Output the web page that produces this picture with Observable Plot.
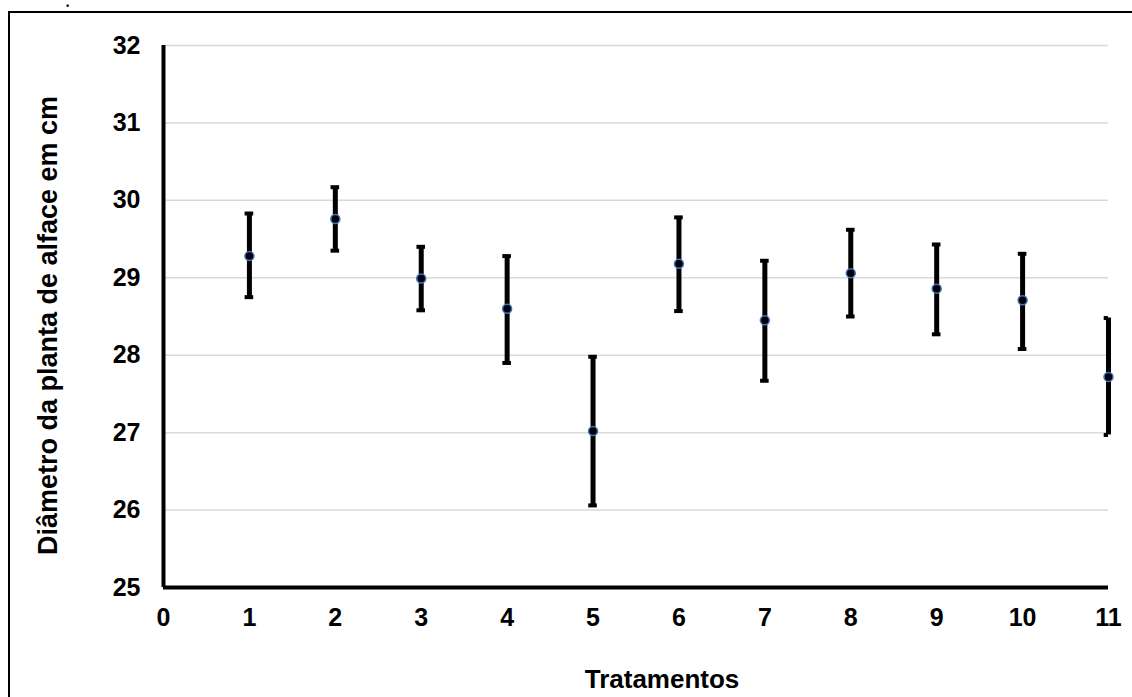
<!DOCTYPE html>
<html>
<head>
<meta charset="utf-8">
<script src="https://cdn.jsdelivr.net/npm/d3@7"></script>
<script src="https://cdn.jsdelivr.net/npm/@observablehq/plot@0.6"></script>
<style>
  html, body { margin: 0; padding: 0; background: #fff; overflow: hidden; width: 1132px; height: 697px; }
  #frame { position: absolute; left: 8px; top: 11px; width: 1200px; height: 800px; border: 2px solid #000; box-sizing: border-box; }
  #dot { position: absolute; left: 66px; top: 1px; font: bold 9px/10px "Liberation Sans", Arial, sans-serif; }
  #chart { position: absolute; left: 0; top: 0; }
</style>
</head>
<body>
<div id="frame"></div>
<span id="dot">•</span>
<div id="chart"></div>
<script>
const tratamentos = [1, 2, 3, 4, 5, 6, 7, 8, 9, 10, 11];
const medias      = [29.28, 29.76, 28.99, 28.60, 27.02, 29.18, 28.45, 29.06, 28.86, 28.71, 27.72];
const limSup      = [29.83, 30.17, 29.40, 29.28, 27.98, 29.78, 29.22, 29.62, 29.43, 29.31, 28.48];
const limInf      = [28.75, 29.35, 28.58, 27.90, 26.06, 28.57, 27.67, 28.50, 28.27, 28.08, 26.97];
const xTicks = [0, 1, 2, 3, 4, 5, 6, 7, 8, 9, 10, 11];
const yTicks = [25, 26, 27, 28, 29, 30, 31, 32];
const xTitle = "Tratamentos";
const yTitle = "Diâmetro da planta de alface em cm";

const data = tratamentos.map((t, i) => ({t, m: medias[i], hi: limSup[i], lo: limInf[i]}));
const capHalf = 0.05;

const font = '"Liberation Sans", Arial, sans-serif';

const chart = Plot.plot({
  width: 1132,
  height: 697,
  marginLeft: 163,
  marginRight: 24,
  marginTop: 45,
  marginBottom: 110,
  style: {fontFamily: font, fontWeight: "bold", fontSize: "25px", color: "#000", background: "transparent"},
  x: {domain: [0, 11]},
  y: {domain: [25, 32]},
  marks: [
    Plot.gridY(yTicks.slice(1), {stroke: "#d9d9d9", strokeOpacity: 1, strokeWidth: 1.5}),
    Plot.axisY(yTicks, {anchor: "left", tickSize: 0, tickPadding: 23, tickFormat: d3.format("d"), label: null, fontSize: 25, fontWeight: "bold"}),
    Plot.axisX(xTicks, {anchor: "bottom", tickSize: 0, tickPadding: 21, tickFormat: d3.format("d"), label: null, fontSize: 25, fontWeight: "bold"}),
    Plot.ruleX([0], {y1: 25, y2: 32, stroke: "#000", strokeWidth: 4}),
    Plot.ruleY([25], {stroke: "#000", strokeWidth: 4}),
    Plot.ruleX(data, {x: "t", y1: "lo", y2: "hi", stroke: "#000", strokeWidth: 5}),
    Plot.ruleY(data, {y: "hi", x1: d => d.t - capHalf, x2: d => d.t + capHalf, stroke: "#000", strokeWidth: 4, clip: true}),
    Plot.ruleY(data, {y: "lo", x1: d => d.t - capHalf, x2: d => d.t + capHalf, stroke: "#000", strokeWidth: 4, clip: true}),
    Plot.dot(data, {x: "t", y: "m", r: 4.5, fill: "#000", stroke: "#4472C4", strokeWidth: 1.5}),
    Plot.text([xTitle], {frameAnchor: "bottom", dx: 26, dy: 92, lineAnchor: "middle", textAnchor: "middle", fontSize: 26, fontWeight: "bold", fill: "#000"}),
    Plot.text([yTitle], {frameAnchor: "left", dx: -115, dy: 9, rotate: -90, lineAnchor: "middle", textAnchor: "middle", fontSize: 27, fontWeight: "bold", fill: "#000"})
  ]
});
document.getElementById("chart").appendChild(chart);
</script>
</body>
</html>
